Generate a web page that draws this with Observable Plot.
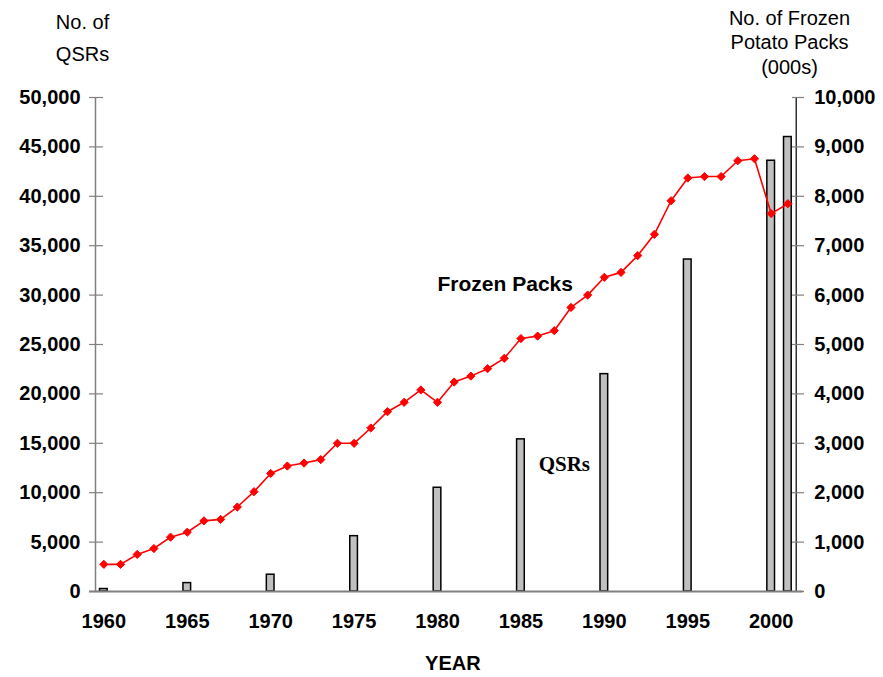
<!DOCTYPE html>
<html>
<head>
<meta charset="utf-8">
<script src="https://cdn.jsdelivr.net/npm/d3@7"></script>
<script src="https://cdn.jsdelivr.net/npm/@observablehq/plot@0.6"></script>
<style>
  html, body { margin: 0; padding: 0; background: #fff; }
  #chart svg { display: block; }
</style>
</head>
<body>
<div id="chart"></div>
<script>
// ---- Data ----
const lineYears = [1960,1961,1962,1963,1964,1965,1966,1967,1968,1969,1970,1971,1972,1973,1974,1975,1976,1977,1978,1979,1980,1981,1982,1983,1984,1985,1986,1987,1988,1989,1990,1991,1992,1993,1994,1995,1996,1997,1998,1999,2000,2001];
// No. of Frozen Potato Packs (000s)
const packs = [550,550,750,870,1100,1200,1430,1460,1710,2020,2390,2540,2600,2670,3000,3000,3310,3640,3830,4080,3830,4240,4360,4510,4720,5120,5170,5280,5750,6000,6360,6460,6800,7230,7910,8370,8400,8400,8720,8760,7650,7850];
const barYears = [1960,1965,1970,1975,1980,1985,1990,1995,2000,2001];
// No. of QSRs
const qsrs = [250,850,1700,5600,10500,15400,22000,33600,43600,46000];

const xTicks = [1960,1965,1970,1975,1980,1985,1990,1995,2000];
const yTicksLeft = [0,5000,10000,15000,20000,25000,30000,35000,40000,45000,50000];
const qsrMax = 50000;
const packMax = 10000;
const xDomain = [1959.5, 2001.5];

const packLabel = [{text: "Frozen Packs", x: 1984.06, y: 31070}];
const qsrLabel = [{text: "QSRs", x: 1987.6, y: 12925}];

// ---- Build tables ----
const ratio = qsrMax / packMax;
const lineData = lineYears.map((year, i) => ({year, packs: packs[i]}));
const barData = barYears.map((year, i) => ({year, qsr: qsrs[i]}));
const halfBar = 0.23;
const fmt = d3.format(",");

const chart = Plot.plot({
  width: 883,
  height: 677,
  marginLeft: 95,
  marginRight: 87.3,
  marginTop: 97,
  marginBottom: 86,
  style: {fontFamily: "Arial, 'Liberation Sans', sans-serif", color: "#000", background: "#fff"},
  x: {domain: xDomain},
  y: {domain: [0, qsrMax]},
  marks: [
    // bars (QSRs)
    Plot.rectY(barData, {
      x1: d => d.year - halfBar,
      x2: d => d.year + halfBar,
      y1: 0,
      y2: "qsr",
      fill: "#c0c0c0",
      stroke: "#000",
      strokeWidth: 1.5
    }),
    // left axis line
    Plot.ruleX([xDomain[0]], {stroke: "#808080", strokeWidth: 1.5}),
    // right axis line
    Plot.ruleX([xDomain[1]], {stroke: "#000", strokeWidth: 1.2}),
    // baseline
    Plot.ruleY([0], {stroke: "#808080", strokeWidth: 2, insetLeft: -6, insetRight: -7}),
    // left ticks (crossing)
    Plot.axisY(yTicksLeft, {anchor: "left", tickSize: 14, dx: 8, fill: "none", stroke: "#808080", strokeWidth: 1.2, label: null}),
    // left labels
    Plot.axisY(yTicksLeft, {anchor: "left", tickSize: 0, tickPadding: 15, fontSize: 20, fontWeight: "bold", fill: "#000", label: null, tickFormat: d => fmt(d)}),
    // right ticks
    Plot.axisY(yTicksLeft, {anchor: "right", tickSize: 12, dx: -4.7, fill: "none", stroke: "#808080", strokeWidth: 1.2, label: null}),
    // right labels (packs)
    Plot.axisY(yTicksLeft, {anchor: "right", tickSize: 0, tickPadding: 18, fontSize: 20, fontWeight: "bold", fill: "#000", label: null, tickFormat: d => fmt(d / ratio)}),
    // x labels
    Plot.axisX(xTicks, {tickSize: 0, tickPadding: 22, fontSize: 20, fontWeight: "bold", fill: "#000", label: null, tickFormat: d => String(d)}),
    // frozen packs line
    Plot.line(lineData, {x: "year", y: d => d.packs * ratio, stroke: "#ff0000", strokeWidth: 1.6}),
    Plot.dot(lineData, {x: "year", y: d => d.packs * ratio, symbol: "diamond2", r: 3.7, fill: "#ff0000", stroke: "#ff0000", strokeWidth: 1}),
    // series labels
    Plot.text(packLabel, {x: "x", y: "y", text: "text", fontFamily: "Arial, 'Liberation Sans', sans-serif", fontSize: 21, fontWeight: "bold", fill: "#000", lineAnchor: "middle", textAnchor: "middle"}),
    Plot.text(qsrLabel, {x: "x", y: "y", text: "text", fontFamily: "'Times New Roman', 'Liberation Serif', serif", fontSize: 21, fontWeight: "bold", fill: "#000", lineAnchor: "middle", textAnchor: "middle"}),
    // axis titles
    Plot.text(["No. of"], {frameAnchor: "top-left", dx: -13, dy: -75, fontSize: 20, fill: "#000", lineAnchor: "middle", textAnchor: "middle"}),
    Plot.text(["QSRs"], {frameAnchor: "top-left", dx: -13, dy: -43, fontSize: 20, fill: "#000", lineAnchor: "middle", textAnchor: "middle"}),
    Plot.text(["No. of Frozen"], {frameAnchor: "top-right", dx: -6.7, dy: -79, fontSize: 20, fill: "#000", lineAnchor: "middle", textAnchor: "middle"}),
    Plot.text(["Potato Packs"], {frameAnchor: "top-right", dx: -6.7, dy: -55, fontSize: 20, fill: "#000", lineAnchor: "middle", textAnchor: "middle"}),
    Plot.text(["(000s)"], {frameAnchor: "top-right", dx: -6.7, dy: -30, fontSize: 20, fill: "#000", lineAnchor: "middle", textAnchor: "middle"}),
    Plot.text(["YEAR"], {frameAnchor: "bottom", dx: 7, dy: 72, fontSize: 20, fontWeight: "bold", fill: "#000", lineAnchor: "middle", textAnchor: "middle"})
  ]
});
document.getElementById("chart").appendChild(chart);
</script>
</body>
</html>
